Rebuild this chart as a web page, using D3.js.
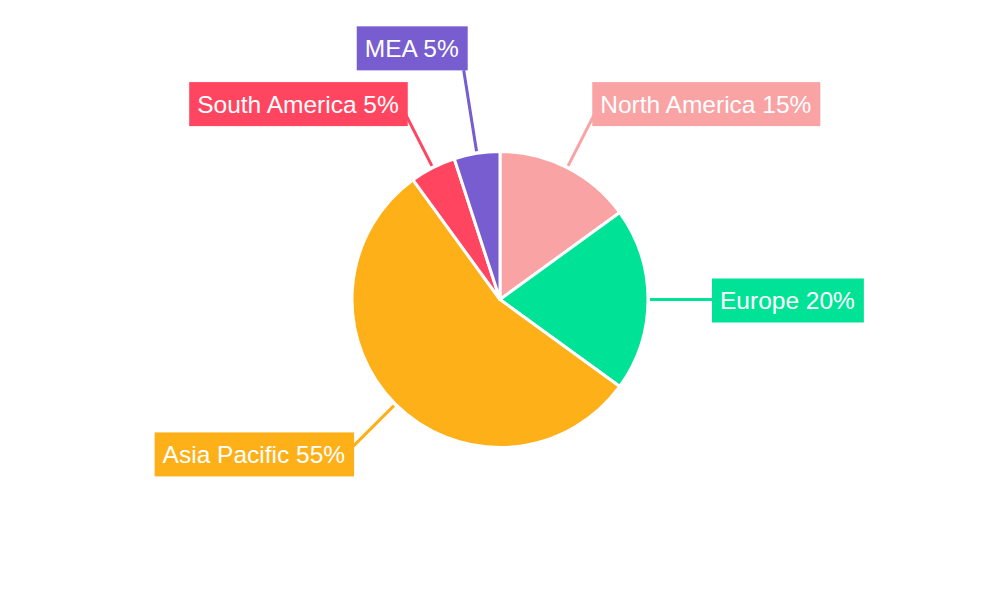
<!DOCTYPE html>
<html>
<head>
<meta charset="utf-8">
<script src="https://cdn.jsdelivr.net/npm/d3@7"></script>
<style>
  html, body { margin: 0; padding: 0; background: #ffffff; }
  svg { display: block; font-family: "Liberation Sans", Arial, sans-serif; }
</style>
</head>
<body>
<svg id="chart" width="1000" height="600"></svg>
<script>
// ---- data ----
const categories = ["North America", "Europe", "Asia Pacific", "South America", "MEA"];
const shares = [15, 20, 55, 5, 5];
const colors = ["#F9A3A4", "#00E396", "#FEB019", "#FF4560", "#775DD0"];

// ---- label layout (leader length and vertical nudge per label) ----
const leaderRadius = [212, 216, 212, 212, 232];
const labelNudgeY = [-6.5, 1, 5, -6.5, -22];

const W = 1000, H = 600;
const cx = 500, cy = 299.5, R = 148;
const svg = d3.select("#chart");
const g = svg.append("g").attr("transform", `translate(${cx},${cy})`);

const data = categories.map((c, i) => ({ name: c, value: shares[i], color: colors[i], i }));

const pie = d3.pie().value(d => d.value).sort(null);
const arcs = pie(data);
const arc = d3.arc().innerRadius(0).outerRadius(R);

// leader lines
const pt = (a, r) => [Math.sin(a) * r, -Math.cos(a) * r];
arcs.forEach(a => {
  const mid = (a.startAngle + a.endAngle) / 2;
  const p0 = pt(mid, R + 2);
  const p1 = pt(mid, leaderRadius[a.data.i]);
  g.append("line")
    .attr("x1", p0[0]).attr("y1", p0[1])
    .attr("x2", p1[0]).attr("y2", p1[1])
    .attr("stroke", a.data.color)
    .attr("stroke-width", 3);
});

// slices
g.selectAll("path.slice")
  .data(arcs)
  .join("path")
  .attr("class", "slice")
  .attr("d", arc)
  .attr("fill", d => d.data.color)
  .attr("stroke", "#ffffff")
  .attr("stroke-width", 3)
  .attr("stroke-linejoin", "round");

// labels
const fontSize = 24.5, boxH = 44, padL = 8, padR = 9;
arcs.forEach(a => {
  const i = a.data.i;
  const mid = (a.startAngle + a.endAngle) / 2;
  const [ax, ay] = pt(mid, leaderRadius[i]);
  const right = Math.sin(mid) > 0;
  const lg = g.append("g");
  const rect = lg.append("rect").attr("fill", a.data.color);
  const txt = lg.append("text")
    .attr("fill", "#ffffff")
    .attr("font-size", fontSize)
    .text(`${a.data.name} ${a.data.value}%`);
  const tw = txt.node().getComputedTextLength();
  const bw = tw + padL + padR;
  const bx = right ? ax - 4 : ax + 4 - bw;
  const bcy = ay + labelNudgeY[i];
  rect.attr("x", bx).attr("y", bcy - boxH / 2).attr("width", bw).attr("height", boxH);
  txt.attr("x", bx + padL).attr("y", bcy + fontSize * 0.358);
});
</script>
</body>
</html>
